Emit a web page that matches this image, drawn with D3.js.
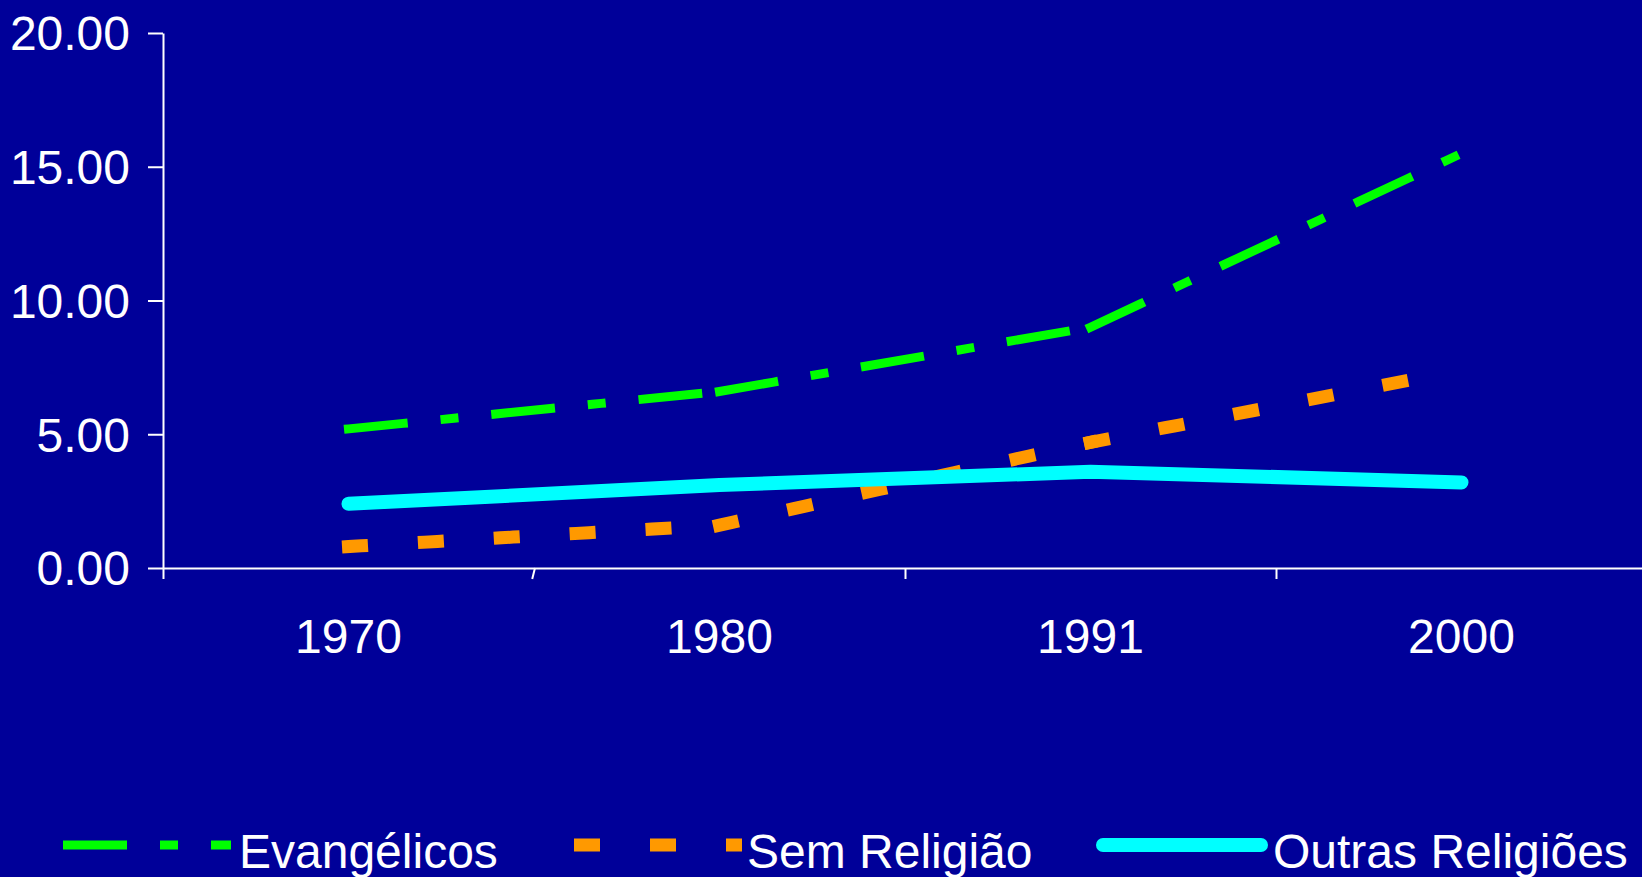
<!DOCTYPE html>
<html>
<head>
<meta charset="utf-8">
<script src="https://cdn.jsdelivr.net/npm/d3@7/dist/d3.min.js"></script>
<style>
  html, body { margin: 0; padding: 0; background: #000099; overflow: hidden; }
  svg { display: block; }
  text { font-family: "Liberation Sans", Arial, sans-serif; fill: #ffffff; }
</style>
</head>
<body>
<script>
const years = ["1970", "1980", "1991", "2000"];
const evangelicos = [5.2, 6.6, 9.0, 15.5];
const semReligiao = [0.8, 1.6, 4.7, 7.4];
const outrasReligioes = [2.4, 3.1, 3.6, 3.2];
const yTicks = [0, 5, 10, 15, 20];
const seriesNames = ["Evangélicos", "Sem Religião", "Outras Religiões"];

const W = 1642, H = 877;
const svg = d3.select("body").append("svg").attr("width", W).attr("height", H);
svg.append("rect").attr("width", W).attr("height", H).attr("fill", "#000099");

const x = d3.scaleBand().domain(years).range([163, 1647]).padding(0);
const y = d3.scaleLinear().domain([0, 20]).range([568, 33]);

// y axis
const yAxis = svg.append("g").attr("transform", "translate(163,0)")
  .call(d3.axisLeft(y).tickValues(yTicks).tickFormat(d3.format(".2f"))
    .tickSize(15).tickSizeOuter(0).tickPadding(18));
yAxis.selectAll("path, line").attr("stroke", "#ffffff").attr("stroke-width", 2);
yAxis.selectAll("text").attr("font-size", 48).attr("fill", "#ffffff")
  .attr("font-family", '"Liberation Sans", Arial, sans-serif').attr("dy", "0.35em");

// x axis (ticks at category boundaries)
const xEdge = d3.scaleLinear().domain([0, years.length]).range(x.range());
const xAxis = svg.append("g").attr("transform", "translate(0,568)")
  .call(d3.axisBottom(xEdge).tickValues(d3.range(years.length)).tickFormat("")
    .tickSize(11).tickSizeOuter(0));
xAxis.selectAll("path, line").attr("stroke", "#ffffff").attr("stroke-width", 2);
// the second tick is drawn slightly slanted in the original
xAxis.selectAll(".tick line").filter((d, i) => i === 1).attr("x1", 0.5).attr("x2", -2.3);

// x labels at band centers
svg.append("g").selectAll("text").data(years).join("text")
  .attr("x", d => x(d) + x.bandwidth() / 2)
  .attr("y", 653)
  .attr("text-anchor", "middle")
  .attr("font-size", 48)
  .text(d => d);

const line = d3.line()
  .x(d => x(years[d.i]) + x.bandwidth() / 2)
  .y(d => y(d.v));

// Each segment is drawn on its own, so the dash pattern restarts at every point
const styles = [
  { data: evangelicos, color: "#00ff00", width: 9, dash: "55,42,9,42", cap: "square" },
  { data: semReligiao, color: "#ff9900", width: 13, dash: "13,63", cap: "square" },
  { data: outrasReligioes, color: "#00ffff", width: 14, dash: null, cap: "round" }
];

styles.forEach(s => {
  const pts = s.data.map((v, i) => ({ i, v }));
  const g = svg.append("g");
  if (s.dash) {
    const segs = d3.pairs(pts);
    g.selectAll("path").data(segs).join("path")
      .attr("d", line)
      .attr("fill", "none")
      .attr("stroke", s.color)
      .attr("stroke-width", s.width)
      .attr("stroke-dasharray", s.dash)
      .attr("stroke-linecap", s.cap);
  } else {
    g.append("path").datum(pts)
      .attr("d", line)
      .attr("fill", "none")
      .attr("stroke", s.color)
      .attr("stroke-width", s.width)
      .attr("stroke-linecap", s.cap)
      .attr("stroke-linejoin", "miter");
  }
});

// legend
const legendItems = [
  { x1: 67.5, x2: 226.5, tx: 239 },
  { x1: 580.5, x2: 735.5, tx: 747 },
  { x1: 1103, x2: 1261, tx: 1273 }
];
legendItems.forEach((li, i) => {
  const s = styles[i];
  svg.append("line")
    .attr("x1", li.x1).attr("x2", li.x2).attr("y1", 845).attr("y2", 845)
    .attr("stroke", s.color).attr("stroke-width", s.width)
    .attr("stroke-dasharray", s.dash)
    .attr("stroke-linecap", s.cap);
  svg.append("text").attr("x", li.tx).attr("y", 868)
    .attr("font-size", 48).text(seriesNames[i]);
});
</script>
</body>
</html>
